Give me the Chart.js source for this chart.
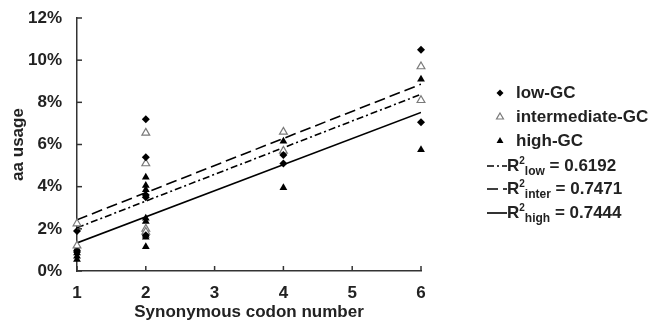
<!DOCTYPE html>
<html><head><meta charset="utf-8">
<script src="https://cdn.jsdelivr.net/npm/chart.js@4/dist/chart.umd.min.js"></script>
<style>html,body{margin:0;padding:0;background:#fff}#wrap{width:657px;height:325px}</style>
</head><body><div id="wrap"><canvas id="c" width="657" height="325"></canvas></div>
<script>
// ---- data ----
const xTicks = [1, 2, 3, 4, 5, 6];
const yTicks = [0, 2, 4, 6, 8, 10, 12];
const seriesNames = ['low-GC', 'intermediate-GC', 'high-GC'];

const lowX  = [1, 1, 2, 2, 2, 2, 2, 4, 4, 6, 6];
const lowY  = [1.9, 0.9, 7.2, 5.4, 3.6, 3.5, 1.7, 5.5, 5.1, 10.5, 7.05];

const interX = [1, 1, 2, 2, 2, 2, 4, 4, 6, 6];
const interY = [2.25, 1.2, 6.55, 5.1, 2.0, 1.85, 6.6, 5.7, 9.7, 8.1];

const highX = [1, 1, 1, 1, 2, 2, 2, 2, 2, 2, 2, 2, 4, 4, 6, 6];
const highY = [1.05, 0.85, 0.7, 0.55, 4.45, 4.05, 3.85, 2.5, 2.35, 1.7, 1.6, 1.15, 6.15, 3.95, 9.1, 5.75];

// trend lines (end points read at x = 1 and x = 6)
const trendX = [1, 6];
const lowTrend = [2.05, 8.38];
const interTrend = [2.43, 8.86];
const highTrend = [1.33, 7.52];

const r2Subs = ['low', 'inter', 'high'];
const r2Values = ['0.6192', '0.7471', '0.7444'];

// ---- build chart ----
const pts = (xs, ys) => xs.map((x, i) => ({x, y: ys[i]}));
const FONT = '"Liberation Sans", Arial, sans-serif';
const TXT = '#222';
const FS = 17;

const dashLow = [7, 3, 2, 3];
const dashInter = [11, 5];

const ds = [
  {type:'scatter', label: seriesNames[0], data: pts(lowX, lowY), pointStyle:'rectRot', pointRadius:4, backgroundColor:'#000', borderColor:'#000', borderWidth:0, clip:false},
  {type:'scatter', label: seriesNames[1], data: pts(interX, interY), pointStyle:'triangle', pointRadius:4.5, backgroundColor:'#fff', borderColor:'#7a7a7a', borderWidth:1.2, clip:false},
  {type:'scatter', label: seriesNames[2], data: pts(highX, highY), pointStyle:'triangle', pointRadius:4.5, backgroundColor:'#000', borderColor:'#000', borderWidth:0, clip:false},
  {type:'line', label:'lowTrend', data: pts(trendX, lowTrend), borderColor:'#000', borderWidth:1.6, borderDash: dashLow, pointRadius:0, fill:false},
  {type:'line', label:'interTrend', data: pts(trendX, interTrend), borderColor:'#000', borderWidth:1.6, borderDash: dashInter, pointRadius:0, fill:false},
  {type:'line', label:'highTrend', data: pts(trendX, highTrend), borderColor:'#000', borderWidth:1.6, pointRadius:0, fill:false},
];

const innerTicks = {
  id:'innerTicks',
  afterDraw(chart){
    const {ctx, scales:{x, y}} = chart;
    ctx.save();
    ctx.strokeStyle = '#333'; ctx.lineWidth = 1.5;
    xTicks.forEach(v => { const px = x.getPixelForValue(v); ctx.beginPath(); ctx.moveTo(px, y.bottom); ctx.lineTo(px, y.bottom - 5); ctx.stroke(); });
    yTicks.forEach(v => { const py = y.getPixelForValue(v); ctx.beginPath(); ctx.moveTo(x.left, py); ctx.lineTo(x.left + 5, py); ctx.stroke(); });
    ctx.restore();
  }
};

const customLegend = {
  id:'customLegend',
  afterDraw(chart){
    const ctx = chart.ctx;
    ctx.save();
    ctx.fillStyle = TXT;
    ctx.textBaseline = 'middle';
    const mx = 500, tx = 516;
    const rows = [93, 117, 141];
    const styles = [
      {style:'rectRot', r:3.5, fill:'#000', stroke:'#000', bw:0},
      {style:'triangle', r:4, fill:'#fff', stroke:'#7a7a7a', bw:1.2},
      {style:'triangle', r:4, fill:'#000', stroke:'#000', bw:0},
    ];
    seriesNames.forEach((name, i) => {
      ctx.fillStyle = styles[i].fill; ctx.strokeStyle = styles[i].stroke; ctx.lineWidth = styles[i].bw;
      Chart.helpers.drawPoint(ctx, {pointStyle: styles[i].style, radius: styles[i].r, borderWidth: styles[i].bw}, mx, rows[i]);
      ctx.fillStyle = TXT;
      ctx.font = 'bold ' + FS + 'px ' + FONT;
      ctx.fillText(name, tx, rows[i]);
    });
    const lrows = [166, 189, 213];
    const dashes = [dashLow, dashInter, []];
    r2Subs.forEach((sub, i) => {
      const yy = lrows[i];
      ctx.strokeStyle = '#000'; ctx.lineWidth = 1.6; ctx.setLineDash(dashes[i]);
      ctx.beginPath(); ctx.moveTo(487, yy); ctx.lineTo(507, yy); ctx.stroke();
      ctx.setLineDash([]);
      let x = 507;
      ctx.fillStyle = TXT;
      ctx.font = 'bold ' + FS + 'px ' + FONT; ctx.fillText('R', x, yy); x += ctx.measureText('R').width;
      ctx.font = 'bold 10px ' + FONT; ctx.fillText('2', x, yy - 5); x += ctx.measureText('2').width;
      ctx.font = 'bold 12px ' + FONT; ctx.fillText(sub, x, yy + 6); x += ctx.measureText(sub).width;
      ctx.font = 'bold ' + FS + 'px ' + FONT; ctx.fillText(' = ' + r2Values[i], x, yy);
    });
    ctx.restore();
  }
};

new Chart(document.getElementById('c'), {
  data: {datasets: ds},
  options: {
    responsive:false, animation:false, devicePixelRatio:1,
    layout:{padding:{top:18, right:236, left:0, bottom:0}},
    plugins:{legend:{display:false}, tooltip:{enabled:false}},
    scales:{
      x:{type:'linear', min:1, max:6,
         afterBuildTicks: s => { s.ticks = xTicks.map(v => ({value:v})); },
         afterFit: s => { s.height = 54; s.paddingLeft = 0; s.paddingRight = 0; },
         grid:{drawOnChartArea:false, drawTicks:false},
         border:{color:'#333', width:1.5},
         ticks:{padding:12, color:TXT, font:{family:FONT, size:FS, weight:'bold'}},
         title:{display:true, text:'Synonymous codon number', color:TXT, font:{family:FONT, size:FS, weight:'bold'}, padding:{top:0, bottom:2}}
      },
      y:{type:'linear', min:0, max:12,
         afterBuildTicks: s => { s.ticks = yTicks.map(v => ({value:v})); },
         afterFit: s => { s.width = 77; s.paddingTop = 0; s.paddingBottom = 0; },
         grid:{drawOnChartArea:false, drawTicks:false},
         border:{color:'#333', width:1.5},
         ticks:{padding:15, color:TXT, font:{family:FONT, size:FS, weight:'bold'}, callback: v => v + '%'},
         title:{display:true, text:'aa usage', color:TXT, font:{family:FONT, size:FS, weight:'bold'}, padding:{top:8, bottom:0}}
      }
    }
  },
  plugins:[innerTicks, customLegend]
});
</script></body></html>
